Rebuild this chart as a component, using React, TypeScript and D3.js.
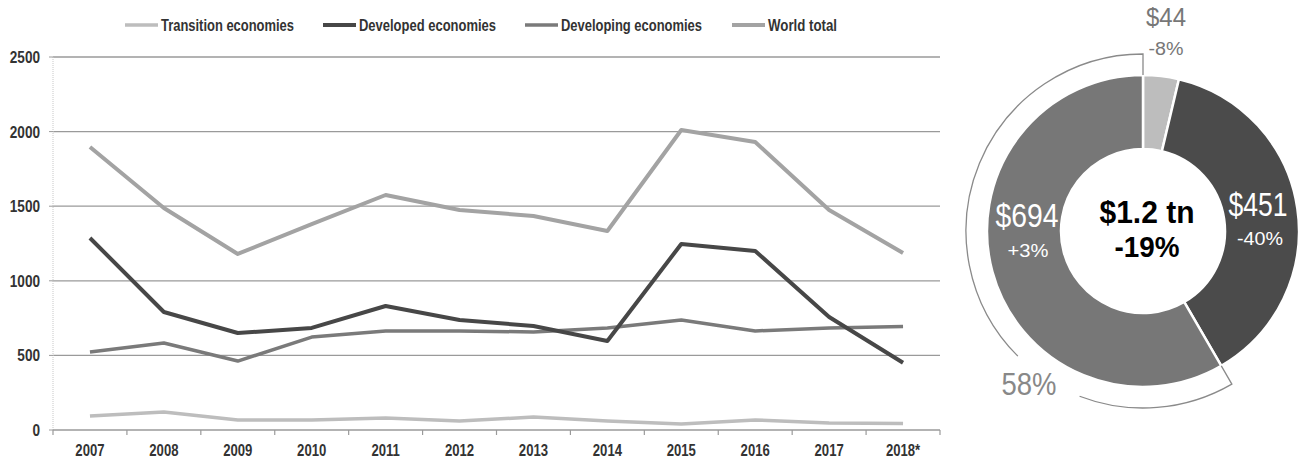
import React from "react";
import * as d3 from "d3";

const years = ["2007","2008","2009","2010","2011","2012","2013","2014","2015","2016","2017","2018*"];
const transition = [94,121,67,67,80,60,87,60,40,67,47,44];
const developed = [1287,791,650,684,831,737,697,597,1247,1200,757,451];
const developing = [523,583,462,623,664,664,657,684,737,664,684,694];
const worldTotal = [1897,1488,1180,1380,1575,1475,1434,1334,2011,1930,1475,1186];
const yTicks = [0,500,1000,1500,2000,2500];

const seriesNames = ["Transition economies","Developed economies","Developing economies","World total"];
const seriesColors = ["#bdbdbd","#474747","#7a7a7a","#a3a3a3"];
const seriesWidths = [3.5,4,3.5,4];

const donutLabels = ["$44","$451","$694"];
const donutChanges = ["-8%","-40%","+3%"];
const donutValues = [44,451,694];
const donutColors = ["#bdbdbd","#4b4b4b","#777777"];

const FONT = "'Liberation Sans', Arial, sans-serif";

function T(props: { x: number; y: number; size: number; sx?: number; anchor?: string; weight?: string; fill?: string; len?: number; children: React.ReactNode }) {
  const { x, y, size, sx = 1, anchor = "start", weight = "normal", fill = "#333", len, children } = props;
  return (
    <text
      transform={`translate(${x},${y}) scale(${sx},1)`}
      textAnchor={anchor}
      fontSize={size}
      fontWeight={weight}
      fill={fill}
      {...(len ? { textLength: len, lengthAdjust: "spacingAndGlyphs" } : {})}
    >
      {children}
    </text>
  );
}

export default function App() {
  const left = 53, right = 940, top = 57, bottom = 430;
  const x = d3.scaleBand().domain(years).range([left, right]);
  const y = d3.scaleLinear().domain([0, 2500]).range([bottom, top]);
  const all = [transition, developed, developing, worldTotal];
  const line = d3.line<number>().x((_, i) => (x(years[i]) as number) + x.bandwidth() / 2).y(d => y(d));
  const drawOrder = [3, 2, 1, 0];

  const legendX = [125, 323, 525, 732];
  const legendLen = [133, 137, 141, 69];

  // donut
  const cx = 1143, cy = 231, rOut = 156, rIn = 82;
  const pie = d3.pie<number>().sort(null).value(d => d)(donutValues);
  const arc = d3.arc<d3.PieArcDatum<number>>().innerRadius(rIn).outerRadius(rOut);
  const devStart = pie[2].startAngle;
  const rO = 177;
  const pt = (a: number, r: number) => [cx + r * Math.sin(a), cy - r * Math.cos(a)];
  const arcPath = (a0: number, a1: number, r: number) => {
    const p0 = pt(a0, r), p1 = pt(a1, r);
    const large = Math.abs(a1 - a0) > Math.PI ? 1 : 0;
    const sweep = a1 > a0 ? 1 : 0;
    return `M${p0[0]},${p0[1]} A${r},${r} 0 ${large} ${sweep} ${p1[0]},${p1[1]}`;
  };
  const gapStart = (360 - 135) * Math.PI / 180;
  const gapEnd = (360 - 159) * Math.PI / 180;
  const topPt = pt(0, rOut);
  const endInner = pt(devStart, rOut);

  return (
    <svg width={1311} height={459} style={{ display: "block", position: "absolute", left: 0, top: 0, background: "#fff" }} fontFamily={FONT}>
      {/* legend */}
      {seriesNames.map((n, i) => (
        <g key={n}>
          <line x1={legendX[i]} x2={legendX[i] + 33} y1={25} y2={25} stroke={seriesColors[i]} strokeWidth={seriesWidths[i]} />
          <T x={legendX[i] + 36} y={31} size={16} weight="bold" fill="#333" len={legendLen[i]}>{n}</T>
        </g>
      ))}
      {/* gridlines */}
      {yTicks.filter(t => t > 0).map(t => (
        <line key={t} x1={left} x2={right} y1={y(t)} y2={y(t)} stroke="#9a9a9a" strokeWidth={1.3} />
      ))}
      <line x1={left} x2={left} y1={top} y2={bottom} stroke="#c8c8c8" strokeWidth={1} strokeDasharray="1,1" />
      <line x1={left} x2={right} y1={bottom} y2={bottom} stroke="#9a9a9a" strokeWidth={1.5} />
      {years.map(yr => (
        <line key={"t" + yr} x1={x(yr)} x2={x(yr)} y1={bottom} y2={bottom + 5} stroke="#9a9a9a" strokeWidth={1.2} />
      ))}
      <line x1={right} x2={right} y1={bottom} y2={bottom + 5} stroke="#9a9a9a" strokeWidth={1.2} />
      {yTicks.map(t => (
        <g key={"y" + t}>
          <line x1={left - 4} x2={left} y1={y(t)} y2={y(t)} stroke="#9a9a9a" strokeWidth={1} />
          <T x={40} y={y(t) + 6} size={16} sx={0.85} anchor="end" weight="bold" fill="#333">{t}</T>
        </g>
      ))}
      {years.map(yr => (
        <T key={"x" + yr} x={(x(yr) as number) + x.bandwidth() / 2} y={456} size={16} sx={0.82} anchor="middle" weight="bold" fill="#333">{yr}</T>
      ))}
      {/* lines */}
      {drawOrder.map(i => (
        <path key={"l" + i} d={line(all[i]) || ""} fill="none" stroke={seriesColors[i]} strokeWidth={seriesWidths[i]} strokeLinejoin="round" />
      ))}

      {/* donut */}
      <g transform={`translate(${cx},${cy})`}>
        {pie.map((p, i) => (
          <path key={"a" + i} d={arc(p) || ""} fill={donutColors[i]} stroke="#fff" strokeWidth={2.5} />
        ))}
      </g>
      {/* outline bracket */}
      <path d={`M${topPt[0]},${topPt[1]} L${cx},${cy - rO} ` + arcPath(2 * Math.PI, gapStart, rO).replace(/^M[^A]*/, "")} fill="none" stroke="#8a8a8a" strokeWidth={1.3} />
      <path d={arcPath(gapEnd, devStart, rO) + ` L${endInner[0]},${endInner[1]}`} fill="none" stroke="#8a8a8a" strokeWidth={1.3} />
      <T x={1029} y={395} size={31} anchor="middle" fill="#888" len={55}>58%</T>

      <T x={1166} y={26} size={26} anchor="middle" fill="#777" len={40}>{donutLabels[0]}</T>
      <T x={1166} y={55} size={18} anchor="middle" fill="#777" len={35}>{donutChanges[0]}</T>
      <T x={1258} y={216} size={33} anchor="middle" fill="#fff" len={59}>{donutLabels[1]}</T>
      <T x={1260} y={245} size={18} anchor="middle" fill="#fff" len={46}>{donutChanges[1]}</T>
      <T x={1027} y={227} size={33} anchor="middle" fill="#fff" len={63}>{donutLabels[2]}</T>
      <T x={1028} y={257} size={18} anchor="middle" fill="#fff" len={41}>{donutChanges[2]}</T>
      <T x={1147} y={223} size={32} anchor="middle" weight="bold" fill="#000" len={95}>$1.2 tn</T>
      <T x={1147} y={257} size={29} anchor="middle" weight="bold" fill="#000" len={65}>-19%</T>
    </svg>
  );
}
